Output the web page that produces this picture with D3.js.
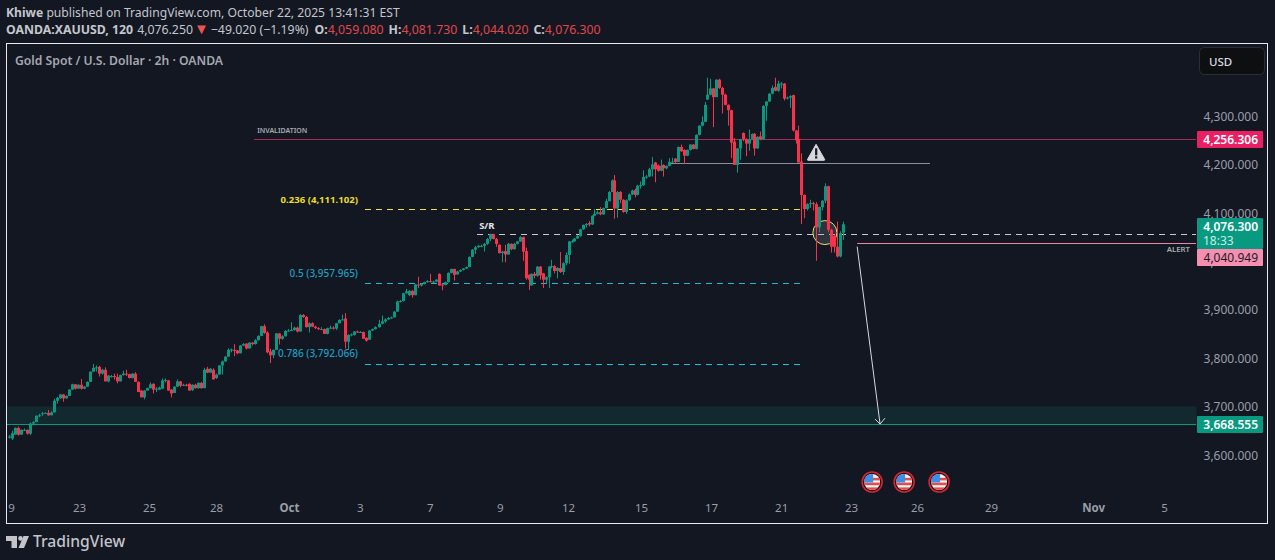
<!DOCTYPE html>
<html><head><meta charset="utf-8">
<script src="https://cdn.jsdelivr.net/npm/d3@7"></script>
<style>
html,body{margin:0;padding:0;background:#131722;overflow:hidden}
svg{display:block}
text{font-family:"Noto Sans",sans-serif}
</style></head><body>
<svg id="c" width="1275" height="560"></svg>
<script>
const opens=[3636,3634,3642,3656,3642,3651,3652,3644,3665,3668,
3681,3684,3686,3687,3682,3688,3712,3717,3725,3717,
3722,3735,3746,3737,3745,3737,3741,3751,3772,3780,
3782,3768,3776,3752,3762,3763,3761,3752,3765,3768,
3767,3759,3768,3751,3733,3719,3733,3738,3747,3735,
3735,3737,3754,3754,3735,3728,3741,3752,3744,3745,
3747,3734,3745,3738,3749,3738,3778,3770,3776,3759,
3766,3785,3793,3803,3817,3817,3816,3810,3826,3830,
3820,3832,3829,3837,3846,3866,3853,3814,3806,3817,
3851,3840,3845,3856,3857,3858,3863,3855,3889,3885,
3864,3872,3865,3862,3860,3860,3850,3862,3863,3861,
3872,3879,3882,3834,3848,3848,3855,3854,3854,3842,
3838,3857,3860,3864,3871,3876,3880,3883,3884,3896,
3917,3918,3934,3930,3939,3930,3952,3950,3953,3957,
3959,3958,3958,3974,3952,3951,3957,3976,3984,3973,
3979,3982,3985,3988,4009,4024,4029,4032,4032,4036,
4046,4056,4046,4034,4017,4021,4014,4036,4025,4036,
4041,4050,4021,3972,3950,3974,3970,3989,3975,3962,
3967,3989,3990,3980,3986,3978,3996,4013,4041,4041,
4047,4052,4066,4075,4079,4076,4094,4098,4101,4097,
4110,4124,4143,4167,4109,4143,4127,4102,4126,4138,
4147,4137,4156,4157,4174,4175,4190,4204,4198,4187,
4199,4192,4197,4205,4212,4205,4236,4230,4218,4230,
4241,4232,4261,4280,4288,4334,4344,4357,4339,4375,
4358,4344,4323,4312,4247,4199,4233,4265,4252,4243,
4252,4263,4233,4258,4252,4321,4330,4346,4360,4352,
4367,4367,4336,4338,4343,4270,4252,4206,4137,4108,
4118,4120,4118,4070,4112,4125,4155,4065,4052,4030,
4010,4059];
const closes=[3638,3645,3656,3642,3652,3652,3644,3665,3668,3681,
3682,3686,3687,3682,3688,3712,3718,3725,3717,3722,
3735,3746,3737,3745,3737,3741,3751,3772,3780,3781,
3768,3776,3752,3764,3763,3761,3752,3765,3768,3767,
3759,3768,3751,3730,3719,3733,3738,3746,3735,3737,
3739,3754,3755,3733,3727,3741,3752,3743,3745,3744,
3733,3745,3738,3749,3738,3776,3770,3778,3756,3766,
3785,3793,3803,3817,3818,3815,3810,3826,3829,3820,
3832,3829,3837,3846,3866,3852,3812,3806,3817,3851,
3840,3845,3856,3857,3858,3863,3855,3889,3885,3864,
3872,3865,3862,3860,3860,3850,3862,3863,3861,3872,
3879,3880,3834,3848,3849,3855,3854,3854,3840,3836,
3857,3860,3864,3871,3876,3880,3883,3884,3896,3917,
3918,3934,3938,3939,3930,3952,3950,3953,3957,3959,
3958,3958,3962,3950,3951,3957,3976,3984,3972,3979,
3982,3985,3988,4009,4024,4029,4032,4032,4036,4046,
4056,4046,4036,4017,4020,4014,4036,4025,4036,4041,
4050,4020,3965,3962,3974,3970,3989,3971,3962,3967,
3989,3990,3980,3986,3978,3996,4013,4041,4041,4047,
4052,4066,4075,4077,4076,4094,4098,4101,4097,4110,
4124,4143,4167,4109,4143,4127,4102,4126,4138,4146,
4137,4156,4157,4174,4175,4190,4200,4190,4187,4197,
4192,4197,4205,4206,4205,4236,4227,4218,4230,4241,
4232,4261,4280,4288,4323,4344,4357,4339,4375,4358,
4344,4323,4312,4245,4199,4233,4252,4252,4243,4252,
4263,4233,4257,4252,4321,4330,4346,4358,4352,4367,
4367,4336,4338,4341,4270,4250,4204,4137,4108,4118,
4120,4118,4070,4112,4125,4155,4065,4030,4030,4010,
4058,4076.3];
const highs=[3641,3650,3657,3659,3653,3655,3653,3667,3670,3682,
3685,3689,3688,3693,3690,3716,3720,3726,3726,3723,
3736,3747,3746,3746,3757,3742,3752,3773,3788,3785,
3784,3778,3781,3765,3765,3768,3768,3766,3774,3776,
3768,3769,3771,3752,3734,3734,3739,3750,3748,3740,
3741,3758,3758,3755,3736,3742,3756,3753,3747,3747,
3748,3746,3747,3750,3751,3780,3782,3780,3779,3768,
3786,3795,3804,3820,3820,3829,3817,3827,3831,3831,
3833,3833,3839,3847,3867,3870,3855,3819,3818,3852,
3852,3847,3858,3860,3874,3865,3865,3891,3891,3887,
3874,3874,3867,3864,3864,3861,3863,3867,3866,3873,
3880,3890,3893,3849,3851,3856,3857,3856,3855,3843,
3858,3861,3866,3879,3888,3882,3885,3886,3897,3919,
3920,3935,3943,3940,3940,3953,3968,3955,3958,3961,
3974,3960,3963,3975,3953,3958,3977,3985,3985,3980,
3983,3986,3989,4010,4025,4032,4034,4034,4038,4048,
4057,4057,4048,4035,4022,4034,4038,4037,4038,4042,
4052,4051,4028,3973,3975,3978,3990,3990,3976,3969,
3990,4003,3992,3988,4019,3998,4018,4042,4045,4048,
4054,4067,4076,4079,4083,4095,4108,4105,4112,4111,
4129,4145,4169,4178,4145,4145,4128,4128,4140,4148,
4150,4158,4165,4188,4178,4193,4215,4205,4200,4210,
4200,4198,4213,4214,4213,4237,4241,4231,4231,4242,
4242,4262,4281,4299,4329,4379,4377,4358,4376,4377,
4360,4346,4324,4313,4254,4234,4253,4266,4254,4272,
4264,4265,4258,4268,4322,4331,4347,4363,4379,4373,
4370,4368,4340,4343,4344,4271,4280,4223,4138,4120,
4127,4123,4122,4113,4126,4161,4156,4067,4055,4082,
4062,4081.73];
const lows=[3634,3631,3642,3640,3642,3650,3642,3641,3664,3668,
3678,3681,3685,3681,3682,3688,3706,3716,3710,3716,
3722,3735,3735,3737,3735,3736,3741,3751,3772,3772,
3762,3766,3752,3750,3760,3756,3748,3752,3764,3763,
3758,3758,3751,3730,3719,3715,3733,3738,3727,3730,
3734,3736,3750,3733,3719,3728,3741,3740,3743,3742,
3733,3732,3737,3737,3737,3738,3769,3770,3756,3757,
3766,3766,3793,3803,3812,3804,3808,3810,3825,3818,
3820,3826,3828,3837,3846,3850,3810,3790,3800,3817,
3828,3838,3845,3855,3856,3857,3853,3855,3883,3863,
3853,3864,3860,3858,3859,3850,3849,3861,3859,3858,
3872,3878,3820,3817,3845,3847,3852,3852,3840,3834,
3838,3856,3859,3863,3870,3873,3879,3882,3884,3896,
3915,3917,3933,3928,3925,3930,3945,3948,3952,3956,
3956,3955,3957,3950,3940,3950,3956,3975,3960,3972,
3978,3981,3984,3988,4009,4015,4028,4029,4020,4034,
4042,4045,4030,4016,3998,3998,4014,4023,4024,4035,
4040,4001,3962,3941,3950,3965,3968,3962,3945,3955,
3945,3985,3975,3965,3976,3972,3992,3995,4039,4040,
4046,4051,4065,4070,4072,4075,4093,4097,4095,4096,
4109,4124,4143,4088,4090,4120,4100,4098,4125,4137,
4132,4136,4150,4156,4170,4174,4175,4163,4185,4186,
4175,4190,4196,4203,4203,4205,4226,4201,4217,4229,
4231,4231,4260,4279,4288,4333,4343,4277,4339,4356,
4305,4322,4280,4213,4199,4183,4210,4248,4217,4228,
4251,4218,4232,4250,4251,4290,4329,4345,4351,4350,
4357,4332,4334,4317,4268,4243,4204,4077,4089,4105,
4110,4105,4001,4060,4105,4120,4060,4018,4018,4008,
4008,4044.02];

const priceTicks=[4300,4200,4100,4000,3900,3800,3700,3600];
const dateLabels=["9","23","25","28","Oct","3","7","9","12","15","17","21","23","26","29","Nov","5"];
const dateBars=[0.7,23.3,46.6,68.9,93.2,116.8,140.1,163.4,186.8,212.3,236.2,260.1,283.9,306.4,331.6,366.4,390.5];
const boldDates=["Oct","Nov"];
const headerLine1=["Khiwe"," published on TradingView.com, October 22, 2025 13:41:31 EST"];
const titleText="Gold Spot / U.S. Dollar · 2h · OANDA";
const invalidation=4256.306, targetLevel=3668.555, zoneTop=3705, alertLevel=4040.949, lastPrice=4076.3, srLevel=4061, neckline=4206;
const fibLevels=[{label:"0.236 (4,111.102)",price:4111.102,color:"#f5e13c",labelColor:"#eadb2a"},
                 {label:"0.5 (3,957.965)",price:3957.965,color:"#1fb6d0",labelColor:"#1d9ec0"},
                 {label:"0.786 (3,792.066)",price:3792.066,color:"#16c1dc",labelColor:"#1d9ec0"}];
const eventBars=[291.1,302,313.9];

const W=1275,H=560,L=6.5,T=43.5,R=1267.5,B=523.5,PANE=1196;
const up="#089981",down="#f7324a",gray="#9a9ea8";
const svg=d3.select("#c");
const x=d3.scaleLinear().domain([0,172,216,281]).range([9,525.7,651.7,842.5]);
const y=d3.scaleLinear().domain([3600,4300]).range([455,116]);
// drawn levels sit about 2.3px under the axis labels of the same price in the reference
const yLine=d3.scaleLinear().domain([3600,4300]).range([457.3,118.3]);

svg.append("rect").attr("width",W).attr("height",H).attr("fill","#131722");

// zone and horizontal lines
const g=svg.append("g");
g.append("rect").attr("x",L+.5).attr("width",PANE-L).attr("y",yLine(zoneTop)).attr("height",yLine(targetLevel)-yLine(zoneTop)).attr("fill","#12292f");
function hline(b0,x1,p,color,w,dash){
  const yy=Math.round(yLine(p)-.5)+.5;
  const l=g.append("line").attr("x1",b0===null?L:x(b0)).attr("x2",x1).attr("y1",yy).attr("y2",yy)
    .attr("stroke",color).attr("stroke-width",w||1);
  if(dash)l.attr("stroke-dasharray",dash);
}
hline(null,PANE,targetLevel,up,1);
hline(81.6,PANE,invalidation,"#a92a5a",1);
hline(221.6,x(310.8),neckline,"#8a8e98",1);
hline(155.8,PANE,srLevel,"#c8cad0",1,"6 5");
fibLevels.forEach(f=>hline(118.5,x(266.5),f.price,f.color,1,"6 5"));
hline(286,PANE,alertLevel,"#e888a8",1);

// circle highlight
g.append("circle").attr("cx",x(275)).attr("cy",yLine(4064)).attr("r",12).attr("fill","rgba(150,155,165,.22)").attr("stroke","#e8dc6a").attr("stroke-width",1);

// candles
const bars=d3.range(closes.length);
const cg=svg.append("g");
cg.selectAll("line.w").data(bars).join("line").attr("class","w")
  .attr("x1",i=>Math.round(x(i))+.5).attr("x2",i=>Math.round(x(i))+.5)
  .attr("y1",i=>y(highs[i])).attr("y2",i=>y(lows[i]))
  .attr("stroke",i=>closes[i]>=opens[i]?up:down).attr("stroke-width",1);
cg.selectAll("rect.b").data(bars).join("rect").attr("class","b")
  .attr("x",i=>Math.round(x(i))-1).attr("width",3)
  .attr("y",i=>y(Math.max(opens[i],closes[i])))
  .attr("height",i=>Math.max(1,Math.abs(y(opens[i])-y(closes[i]))))
  .attr("fill",i=>closes[i]>=opens[i]?up:down);

// arrow
const ax0=x(286),ay0=yLine(4035),ax1=x(293.8),ay1=yLine(targetLevel);
const ag=svg.append("g").attr("stroke","#d5d7dc").attr("stroke-width",1).attr("fill","none");
ag.append("line").attr("x1",ax0).attr("y1",ay0).attr("x2",ax1).attr("y2",ay1);
ag.append("path").attr("d",d3.line()([[ax1-5,ay1-5],[ax1,ay1],[ax1+5,ay1-6]]));

// warning triangle
const tri=svg.append("g").attr("transform",`translate(${x(272)},${y(4225)})`);
tri.append("path").attr("d","M0,-8 L8.5,7 Q9,8 8,8 L-8,8 Q-9,8 -8.5,7 Z").attr("fill","#d6d7db").attr("stroke","#d6d7db").attr("stroke-linejoin","round");
tri.append("rect").attr("x",-1).attr("y",-4).attr("width",2.2).attr("height",7).attr("fill","#131722");
tri.append("rect").attr("x",-1).attr("y",4).attr("width",2.2).attr("height",2.2).attr("fill","#131722");

// annotation labels
function label(xp,yp,t,size,fill,anchor,weight){
  return svg.append("text").attr("x",xp).attr("y",yp).attr("font-size",size).attr("fill",fill)
    .attr("text-anchor",anchor||"start").attr("font-weight",weight||400).text(t);
}
label(x(82.6),yLine(invalidation)-6,"INVALIDATION",7,"#a7aab2","start",600);
label(x(156.5),yLine(srLevel)-5,"S/R",9.5,"#e4e5e8","start",700);
label(1190,252,"ALERT",7.8,"#a7aab2","end",600);
fibLevels.forEach(f=>label(358,yLine(f.price)-7,f.label,f.price>4000?9.6:10,f.labelColor,"end",f.price>4000?700:500));

// price axis
const py=svg.append("g").attr("transform",`translate(1258,0)`).call(d3.axisLeft(y).tickValues(priceTicks).tickSize(0).tickPadding(0).tickFormat(d3.format(",.3f")));
py.select(".domain").remove();
py.selectAll("text").attr("fill",gray).attr("font-size",12).attr("font-family",'"Noto Sans",sans-serif').attr("dy",".35em");

// date axis
const px=svg.append("g").attr("transform",`translate(0,498)`).call(d3.axisBottom(x).tickValues(dateBars).tickSize(0).tickPadding(6).tickFormat((d,i)=>dateLabels[i]));
px.select(".domain").remove();
px.selectAll("text").attr("fill",gray).attr("font-size",11.5).attr("font-family",'"Noto Sans",sans-serif')
  .attr("font-weight",(d,i)=>boldDates.includes(dateLabels[i])?700:400);

// price tags
function tag(p,t,fill,tc,y0,h,extra){
  svg.append("rect").attr("x",1197).attr("y",y0).attr("width",66).attr("height",h).attr("rx",1).attr("fill",fill);
  label(1258,y0+12.6,t,12,tc,"end",fill==="#f48fb1"?400:600);
  if(extra)label(1197+6,y0+26.5,extra,12,"#c9efe6","start",400);
}
tag(invalidation,"4,256.306","#e91e63","#fff",131,17);
tag(lastPrice,"4,076.300",up,"#fff",218,31,"18:33");
tag(alertLevel,"4,040.949","#f48fb1","#1a1d26",249,17);
tag(targetLevel,"3,668.555",up,"#fff",416,17);

// USD button
svg.append("rect").attr("x",1199.5).attr("y",47.5).attr("width",65).attr("height",27).attr("rx",5).attr("fill","#0e0f11").attr("stroke","#2a2e39");
label(1209,66,"USD",11.5,"#d8dae0","start",500);

// event flags
const flags=svg.append("g");
eventBars.forEach((b,k)=>{
  const cx=x(b),cy=482,id="fc"+k;
  const f=flags.append("g");
  f.append("circle").attr("cx",cx).attr("cy",cy).attr("r",10).attr("fill","#131722").attr("stroke","#d8232f").attr("stroke-width",1.6);
  f.append("clipPath").attr("id",id).append("circle").attr("cx",cx).attr("cy",cy).attr("r",8);
  const inner=f.append("g").attr("clip-path",`url(#${id})`);
  inner.append("rect").attr("x",cx-8).attr("y",cy-8).attr("width",16).attr("height",16).attr("fill","#f5f5f5");
  [[-4.2,2.6],[0.6,2.6],[5.4,2.8]].forEach(s=>inner.append("rect").attr("x",cx-8).attr("y",cy+s[0]).attr("width",16).attr("height",s[1]).attr("fill","#ea4a4a"));
  inner.append("rect").attr("x",cx-8).attr("y",cy-8).attr("width",9).attr("height",8.5).attr("fill","#3a8fe6");
});

// frame
svg.append("rect").attr("x",L).attr("y",T).attr("width",R-L).attr("height",B-T).attr("fill","none").attr("stroke","#e8e9ec").attr("stroke-width",1);

// header
const h1=svg.append("text").attr("x",6).attr("y",17).attr("font-size",12.15).attr("fill","#c4c6cc");
h1.append("tspan").attr("font-weight",700).text(headerLine1[0]);
h1.append("tspan").text(headerLine1[1]);
const h2=svg.append("text").attr("x",6).attr("y",34).attr("font-size",12.3).attr("fill","#c4c6cc");
h2.append("tspan").attr("font-weight",700).text("OANDA:XAUUSD, 120");
h2.append("tspan").attr("dx",4).text("4,076.250");
h2.append("tspan").attr("dx",1).attr("fill","#ef5350").attr("font-size",15).text("▼");
h2.append("tspan").attr("dx",2).text("−49.020 (−1.19%)");
[["O:","4,059.080"],["H:","4,081.730"],["L:","4,044.020"],["C:","4,076.300"]].forEach((p,i)=>{
  h2.append("tspan").attr("dx",i===0?6:5).attr("font-weight",700).text(p[0]);
  h2.append("tspan").attr("fill","#e0474c").text(p[1]);
});
label(15,65,titleText,12.2,"#a5a8b0","start",600);

// logo
const logo=svg.append("g").attr("fill","#c2c4ca");
logo.append("path").attr("d","M6,536 H17 V548 H11.5 V541 H6 Z");
logo.append("circle").attr("cx",20.5).attr("cy",538.4).attr("r",2.3);
logo.append("path").attr("d","M23.5,536 H29 L24,548 H18.5 Z");
label(33,547,"TradingView",15.7,"#c2c4ca","start",500).attr("font-family","Inter, sans-serif");
</script>
</body></html>
